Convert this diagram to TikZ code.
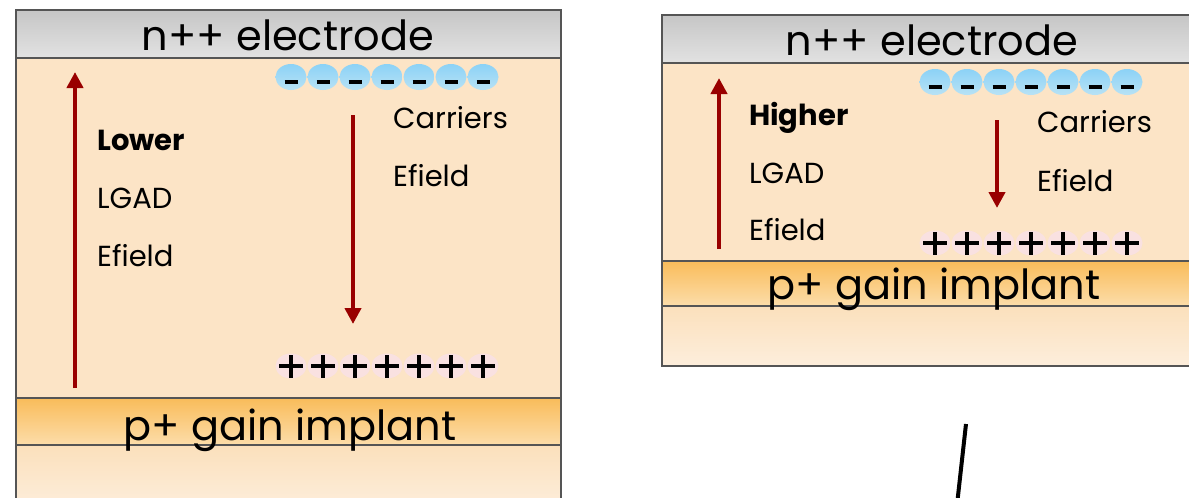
\documentclass[tikz,border=0pt]{standalone}
\usepackage{fontspec}
\setmainfont{Poppins}
\usetikzlibrary{arrows.meta,shapes.geometric}

\definecolor{bulkfill}{HTML}{FCE4C6}
\definecolor{elecTop}{HTML}{C6C6C6}
\definecolor{elecBot}{HTML}{E2E2E2}
\definecolor{gainTop}{HTML}{F9BC5A}
\definecolor{gainBot}{HTML}{FCDDAA}
\definecolor{subTop}{HTML}{FBE0BC}
\definecolor{subBot}{HTML}{FDEEDC}
\definecolor{frame}{HTML}{555555}
\definecolor{fieldred}{HTML}{990000}
\definecolor{negTop}{HTML}{8CD2F6}
\definecolor{negBot}{HTML}{B8E2F5}
\definecolor{posfill}{HTML}{F9E1E1}

\tikzset{
  layerline/.style={draw=frame, line width=2pt},
  bandtext/.style={anchor=base, inner sep=0pt, font=\fontsize{41.5}{41.5}\selectfont},
  label/.style={anchor=base west, inner sep=0pt, font=\fontsize{29}{29}\selectfont},
  field/.style={draw=fieldred, line width=4pt,
    -{Triangle[width=16pt,length=16pt]}},
  negcharge/.style={ellipse, minimum width=31pt, minimum height=26pt, inner sep=0pt,
    shade, top color=negTop, bottom color=negBot,
    path picture={\draw[line width=3.5pt]
      ([xshift=-6.5pt,yshift=-5pt]path picture bounding box.center) -- ++(13pt,0pt);}},
  poscharge/.style={ellipse, minimum width=31pt, minimum height=25pt, inner sep=0pt,
    fill=posfill,
    path picture={\draw[line width=3.3pt]
      ([xshift=-12pt]path picture bounding box.center) -- ++(24pt,0pt)
      ([yshift=-11.5pt]path picture bounding box.center) -- ++(0pt,23pt);}},
}

\begin{document}
\begin{tikzpicture}[x=1pt, y=-1pt]
\useasboundingbox (0,0) rectangle (1189,498);
\clip (0,0) rectangle (1189,498);

% ---------- left sensor: lower gain-layer field ----------
\shade[top color=elecTop, bottom color=elecBot] (16,10) rectangle (561,58);
\fill[bulkfill] (16,58) rectangle (561,398);
\shade[top color=gainTop, bottom color=gainBot] (16,398) rectangle (561,445);
\shade[top color=subTop, bottom color=subBot] (16,445) rectangle (561,510);
\draw[layerline] (16,510) -- (16,10) -- (561,10) -- (561,510);
\draw[layerline] (16,58) -- (561,58);
\draw[layerline] (16,398) -- (561,398);
\draw[layerline] (16,445) -- (561,445);

\node[bandtext] (elecL) at (288,50) {n++ electrode};
\node[bandtext] (gainL) at (290,440) {p+ gain implant};

\foreach \i in {0,...,6} {
  \node[negcharge] (negL\i) at (291+32*\i,77) {};
  \node[poscharge] (posL\i) at (291+32*\i,366) {};
}

\coordinate (upLa) at (75,388);
\coordinate (upLb) at (75,72);
\draw[field] (upLa) -- (upLb);
\coordinate (dnLa) at (353,115);
\coordinate (dnLb) at (353,324);
\draw[field] (dnLa) -- (dnLb);

\node[label, font=\fontsize{29}{29}\selectfont\bfseries] (lower) at (97,150) {Lower};
\node[label] (lgadL) at (97,208) {LGAD};
\node[label] (efL) at (97,266) {Efield};
\node[label] (carL) at (393,128) {Carriers};
\node[label] (efL2) at (393,186) {Efield};

% ---------- right sensor: higher gain-layer field ----------
\shade[top color=elecTop, bottom color=elecBot] (662,15) rectangle (1200,63);
\fill[bulkfill] (662,63) rectangle (1200,261);
\shade[top color=gainTop, bottom color=gainBot] (662,261) rectangle (1200,306);
\shade[top color=subTop, bottom color=subBot] (662,306) rectangle (1200,366);
\draw[layerline] (1200,366) -- (662,366) -- (662,15) -- (1200,15);
\draw[layerline] (662,63) -- (1200,63);
\draw[layerline] (662,261) -- (1200,261);
\draw[layerline] (662,306) -- (1200,306);

\node[bandtext] (elecR) at (932,55) {n++ electrode};
\node[bandtext] (gainR) at (934,299) {p+ gain implant};

\foreach \i in {0,...,6} {
  \node[negcharge] (negR\i) at (935+32*\i,82) {};
  \node[poscharge] (posR\i) at (935+32*\i,243) {};
}

\coordinate (upRa) at (719,249);
\coordinate (upRb) at (719,78);
\draw[field] (upRa) -- (upRb);
\coordinate (dnRa) at (997,120);
\coordinate (dnRb) at (997,208);
\draw[field] (dnRa) -- (dnRb);

\node[label, font=\fontsize{29}{29}\selectfont\bfseries] (higher) at (749,125) {Higher};
\node[label] (lgadR) at (749,183) {LGAD};
\node[label] (efR) at (749,240) {Efield};
\node[label] (carR) at (1037,132) {Carriers};
\node[label] (efR2) at (1037,191) {Efield};

% stroke entering from below
\coordinate (strokeA) at (966,424);
\coordinate (strokeB) at (957,505);
\draw[line width=4pt] (strokeA) -- (strokeB);
\end{tikzpicture}
\end{document}
